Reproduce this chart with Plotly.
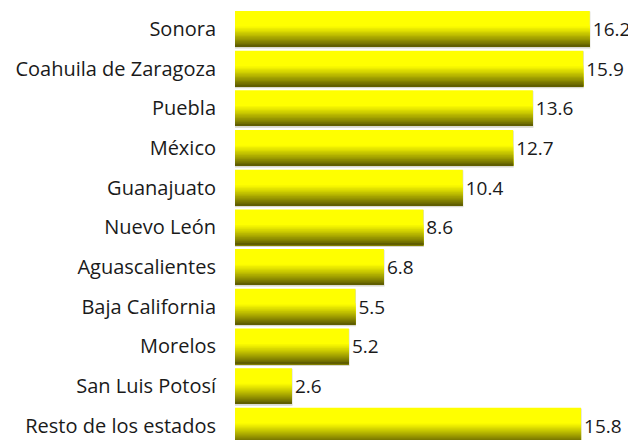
import plotly.graph_objects as go

estados = ["Sonora", "Coahuila de Zaragoza", "Puebla", "México", "Guanajuato",
           "Nuevo León", "Aguascalientes", "Baja California", "Morelos",
           "San Luis Potosí", "Resto de los estados"]
valores = [16.2, 15.9, 13.6, 12.7, 10.4, 8.6, 6.8, 5.5, 5.2, 2.6, 15.8]
etiquetas = [f"{v:.1f}" for v in valores]

FONT = "Open Sans"
FS = 20
FS_VAL = 19
BW = 0.9

fig = go.Figure()

# shadow / outline
fig.add_trace(go.Bar(
    y=estados, x=valores, orientation="h", width=BW, offset=-BW / 2 + 0.03,
    marker=dict(color="#d9d9cf", line=dict(color="#d9d9cf", width=1.2)),
    hoverinfo="skip", showlegend=False,
))

# base bright yellow bar with labels
fig.add_trace(go.Bar(
    y=estados, x=valores, orientation="h", width=BW, offset=-BW / 2,
    marker=dict(color="#ffff00", line=dict(width=0)),
    text=etiquetas, textposition="outside", cliponaxis=False,
    textfont=dict(family=FONT, size=FS_VAL, color="#1a1a1a"),
    showlegend=False,
))

# vertical gradient towards the bottom of each bar
top_rgb = (255, 255, 0)
bot_rgb = (84, 82, 0)
n = 16
start = 0.4
for k in range(n):
    t = start + (1 - start) * k / n
    f = ((t - start) / (1 - start)) ** 1.1
    c = tuple(int(round(top_rgb[i] + (bot_rgb[i] - top_rgb[i]) * f)) for i in range(3))
    fig.add_trace(go.Bar(
        y=estados, x=valores, orientation="h",
        width=BW * (1 - t), offset=-BW / 2 + BW * t,
        marker=dict(color="rgb(%d,%d,%d)" % c, line=dict(width=0)),
        hoverinfo="skip", showlegend=False,
    ))

fig.update_layout(
    width=628, height=432,
    barmode="overlay",
    margin=dict(l=227, r=0, t=1, b=0, autoexpand=False),
    paper_bgcolor="white", plot_bgcolor="white",
    font=dict(family=FONT, size=FS, color="#1a1a1a"),
    xaxis=dict(range=[0, 401 / 21.9], visible=False, showgrid=False, zeroline=False),
    yaxis=dict(range=[10.36, -0.5], showgrid=False, zeroline=False,
               ticks="", ticklabelstandoff=18, automargin=False,
               tickfont=dict(family=FONT, size=FS, color="#1a1a1a")),
)

fig.write_html("out.html")
